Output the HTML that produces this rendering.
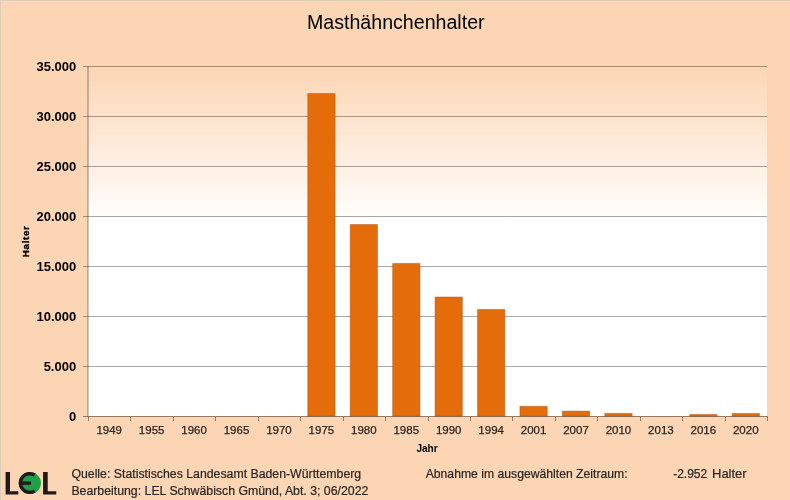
<!DOCTYPE html>
<html><head><meta charset="utf-8"><style>
html,body{margin:0;padding:0;}
body{width:790px;height:500px;overflow:hidden;background:#fcd5b4;position:relative;font-family:"Liberation Sans",sans-serif;}
svg{position:absolute;left:0;top:0;will-change:transform;}
text{font-family:"Liberation Sans",sans-serif;}
.yl{font-size:13px;font-weight:bold;fill:#000;}
.xl{font-size:11.5px;fill:#2a2420;stroke:#2a2420;stroke-width:0.25px;}
.ft{font-size:12.3px;fill:#2a2420;stroke:#2a2420;stroke-width:0.2px;}
</style></head><body>
<svg width="790" height="500" viewBox="0 0 790 500">
<defs>
<linearGradient id="pg" x1="0" y1="0" x2="0" y2="1">
<stop offset="0" stop-color="#fcd5b4"/>
<stop offset="0.45" stop-color="#ffffff"/>
<stop offset="1" stop-color="#ffffff"/>
</linearGradient>
</defs>
<rect x="0" y="0" width="790" height="1" fill="#e0ccb4"/>
<rect x="0" y="1" width="790" height="1" fill="#f3dcc3"/>
<rect x="0" y="0" width="1" height="500" fill="#dccdb9"/>
<rect x="1" y="1" width="1" height="499" fill="#f0dcc6"/>
<text x="395.8" y="29" text-anchor="middle" style="font-size:19.6px;fill:#000">Masthähnchenhalter</text>
<rect x="88.0" y="66" width="679.0" height="350" fill="url(#pg)"/>
<line x1="83" y1="66.5" x2="767.0" y2="66.5" stroke="rgba(0,0,0,0.34)" stroke-width="1"/>
<line x1="83" y1="116.5" x2="767.0" y2="116.5" stroke="rgba(0,0,0,0.34)" stroke-width="1"/>
<line x1="83" y1="166.5" x2="767.0" y2="166.5" stroke="rgba(0,0,0,0.34)" stroke-width="1"/>
<line x1="83" y1="216.5" x2="767.0" y2="216.5" stroke="rgba(0,0,0,0.34)" stroke-width="1"/>
<line x1="83" y1="266.5" x2="767.0" y2="266.5" stroke="rgba(0,0,0,0.34)" stroke-width="1"/>
<line x1="83" y1="316.5" x2="767.0" y2="316.5" stroke="rgba(0,0,0,0.34)" stroke-width="1"/>
<line x1="83" y1="366.5" x2="767.0" y2="366.5" stroke="rgba(0,0,0,0.34)" stroke-width="1"/>
<rect x="307.76" y="93.50" width="27.29" height="322.50" fill="#e46c0a" stroke="rgba(170,80,20,0.45)" stroke-width="1"/>
<rect x="350.20" y="224.50" width="27.29" height="191.50" fill="#e46c0a" stroke="rgba(170,80,20,0.45)" stroke-width="1"/>
<rect x="392.64" y="263.50" width="27.29" height="152.50" fill="#e46c0a" stroke="rgba(170,80,20,0.45)" stroke-width="1"/>
<rect x="435.07" y="297.00" width="27.29" height="119.00" fill="#e46c0a" stroke="rgba(170,80,20,0.45)" stroke-width="1"/>
<rect x="477.51" y="309.50" width="27.29" height="106.50" fill="#e46c0a" stroke="rgba(170,80,20,0.45)" stroke-width="1"/>
<rect x="519.95" y="406.30" width="27.29" height="9.70" fill="#e46c0a" stroke="rgba(170,80,20,0.45)" stroke-width="1"/>
<rect x="562.39" y="411.10" width="27.29" height="4.90" fill="#e46c0a" stroke="rgba(170,80,20,0.45)" stroke-width="1"/>
<rect x="604.82" y="413.40" width="27.29" height="2.60" fill="#e46c0a" stroke="rgba(170,80,20,0.45)" stroke-width="1"/>
<rect x="689.70" y="414.50" width="27.29" height="1.50" fill="#e46c0a" stroke="rgba(170,80,20,0.45)" stroke-width="1"/>
<rect x="732.14" y="413.50" width="27.29" height="2.50" fill="#e46c0a" stroke="rgba(170,80,20,0.45)" stroke-width="1"/>
<line x1="88" y1="66" x2="88" y2="417" stroke="rgba(40,30,20,0.5)" stroke-width="1"/>
<line x1="83" y1="416.5" x2="768.0" y2="416.5" stroke="rgba(40,30,20,0.5)" stroke-width="1"/>
<line x1="88.5" y1="417" x2="88.5" y2="421" stroke="rgba(40,30,20,0.5)" stroke-width="1"/>
<line x1="130.5" y1="417" x2="130.5" y2="421" stroke="rgba(40,30,20,0.5)" stroke-width="1"/>
<line x1="173.5" y1="417" x2="173.5" y2="421" stroke="rgba(40,30,20,0.5)" stroke-width="1"/>
<line x1="215.5" y1="417" x2="215.5" y2="421" stroke="rgba(40,30,20,0.5)" stroke-width="1"/>
<line x1="258.5" y1="417" x2="258.5" y2="421" stroke="rgba(40,30,20,0.5)" stroke-width="1"/>
<line x1="300.5" y1="417" x2="300.5" y2="421" stroke="rgba(40,30,20,0.5)" stroke-width="1"/>
<line x1="343.5" y1="417" x2="343.5" y2="421" stroke="rgba(40,30,20,0.5)" stroke-width="1"/>
<line x1="385.5" y1="417" x2="385.5" y2="421" stroke="rgba(40,30,20,0.5)" stroke-width="1"/>
<line x1="428.5" y1="417" x2="428.5" y2="421" stroke="rgba(40,30,20,0.5)" stroke-width="1"/>
<line x1="470.5" y1="417" x2="470.5" y2="421" stroke="rgba(40,30,20,0.5)" stroke-width="1"/>
<line x1="512.5" y1="417" x2="512.5" y2="421" stroke="rgba(40,30,20,0.5)" stroke-width="1"/>
<line x1="555.5" y1="417" x2="555.5" y2="421" stroke="rgba(40,30,20,0.5)" stroke-width="1"/>
<line x1="597.5" y1="417" x2="597.5" y2="421" stroke="rgba(40,30,20,0.5)" stroke-width="1"/>
<line x1="640.5" y1="417" x2="640.5" y2="421" stroke="rgba(40,30,20,0.5)" stroke-width="1"/>
<line x1="682.5" y1="417" x2="682.5" y2="421" stroke="rgba(40,30,20,0.5)" stroke-width="1"/>
<line x1="725.5" y1="417" x2="725.5" y2="421" stroke="rgba(40,30,20,0.5)" stroke-width="1"/>
<line x1="767.5" y1="417" x2="767.5" y2="421" stroke="rgba(40,30,20,0.5)" stroke-width="1"/>
<text x="76.2" y="71.3" text-anchor="end" class="yl">35.000</text>
<text x="76.2" y="121.3" text-anchor="end" class="yl">30.000</text>
<text x="76.2" y="171.3" text-anchor="end" class="yl">25.000</text>
<text x="76.2" y="221.3" text-anchor="end" class="yl">20.000</text>
<text x="76.2" y="271.3" text-anchor="end" class="yl">15.000</text>
<text x="76.2" y="321.3" text-anchor="end" class="yl">10.000</text>
<text x="76.2" y="371.3" text-anchor="end" class="yl">5.000</text>
<text x="76.2" y="421.3" text-anchor="end" class="yl">0</text>
<text x="109.22" y="433.6" text-anchor="middle" class="xl">1949</text>
<text x="151.66" y="433.6" text-anchor="middle" class="xl">1955</text>
<text x="194.09" y="433.6" text-anchor="middle" class="xl">1960</text>
<text x="236.53" y="433.6" text-anchor="middle" class="xl">1965</text>
<text x="278.97" y="433.6" text-anchor="middle" class="xl">1970</text>
<text x="321.41" y="433.6" text-anchor="middle" class="xl">1975</text>
<text x="363.84" y="433.6" text-anchor="middle" class="xl">1980</text>
<text x="406.28" y="433.6" text-anchor="middle" class="xl">1985</text>
<text x="448.72" y="433.6" text-anchor="middle" class="xl">1990</text>
<text x="491.16" y="433.6" text-anchor="middle" class="xl">1994</text>
<text x="533.59" y="433.6" text-anchor="middle" class="xl">2001</text>
<text x="576.03" y="433.6" text-anchor="middle" class="xl">2007</text>
<text x="618.47" y="433.6" text-anchor="middle" class="xl">2010</text>
<text x="660.91" y="433.6" text-anchor="middle" class="xl">2013</text>
<text x="703.34" y="433.6" text-anchor="middle" class="xl">2016</text>
<text x="745.78" y="433.6" text-anchor="middle" class="xl">2020</text>
<text x="427" y="451.7" text-anchor="middle" style="font-size:10px;font-weight:bold;fill:#000">Jahr</text>
<text transform="translate(29.1,241.3) rotate(-90)" text-anchor="middle" style="font-size:9.8px;font-weight:bold;letter-spacing:0.65px;fill:#000;stroke:#000;stroke-width:0.35px">Halter</text>
<text x="71.4" y="477.7" class="ft">Quelle: Statistisches Landesamt Baden-Württemberg</text>
<text x="71.4" y="495.2" class="ft">Bearbeitung: LEL Schwäbisch Gmünd, Abt. 3; 06/2022</text>
<text x="425.7" y="478" class="ft" style="font-size:12.2px">Abnahme im ausgewählten Zeitraum:</text>
<text x="673.2" y="478.2" class="ft" style="font-size:12px">-2.952</text>
<text x="712" y="478.2" style="font-size:13px;fill:#2a2420;stroke:#2a2420;stroke-width:0.2px">Halter</text>
<!-- LEL logo -->
<g fill="#211a16">
<path d="M5.6 471.9 h4.4 v19.4 h8.3 v3.2 h-12.7 z"/>
<path d="M43.1 471.9 h4.6 v19.3 h8.6 v3.2 h-13.2 z"/>
</g>
<circle cx="29.85" cy="483" r="11.1" fill="#1fa048"/>
<path d="M34.7 475.1 A9.35 9.35 0 1 0 34.7 490.9" fill="none" stroke="#211a16" stroke-width="3.5"/>
<rect x="22" y="481.4" width="9.1" height="3.4" fill="#211a16"/>
</svg>
</body></html>
